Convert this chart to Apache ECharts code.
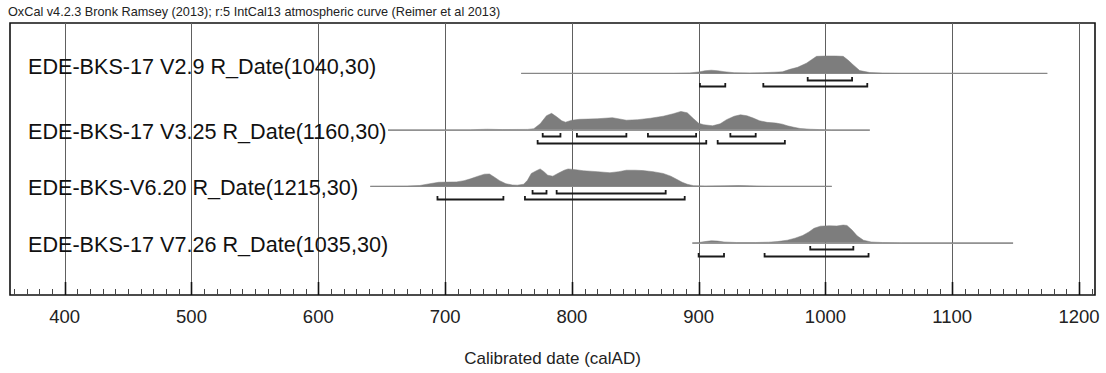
<!DOCTYPE html>
<html>
<head>
<meta charset="utf-8">
<script src="https://cdn.jsdelivr.net/npm/echarts@6/dist/echarts.min.js"></script>
<style>
html,body{margin:0;padding:0;background:#fff;}
#chart{width:1106px;height:373px;}
</style>
</head>
<body>
<div id="chart"></div>
<script>
// ---------- data ----------
const headerText = "OxCal v4.2.3 Bronk Ramsey (2013); r:5 IntCal13 atmospheric curve (Reimer et al 2013)";
const axisTitle = "Calibrated date (calAD)";
const sampleNames = [
  "EDE-BKS-17 V2.9 R_Date(1040,30)",
  "EDE-BKS-17 V3.25 R_Date(1160,30)",
  "EDE-BKS-V6.20 R_Date(1215,30)",
  "EDE-BKS-17 V7.26 R_Date(1035,30)"
];
const axisTickValues = [400, 500, 600, 700, 800, 900, 1000, 1100, 1200];
// calendar span of each calculated distribution (cal AD)
const rowSpans = [[760, 1175], [655, 1035], [641, 1005], [895, 1148]];
// relative probability [calAD, prob]
const prob1 = [[760,0],[880,0],[893,2],[900,7],[905,14],[910,17],[915,14],[920,9],[928,3],[940,2],[950,3],[960,6],[966,8],[972,22],[978,33],[985,56],[989,75],[993,94],[1000,96],[1008,96],[1014,94],[1018,72],[1022,46],[1027,15],[1035,4],[1045,1],[1060,0],[1175,0]];
const prob2 = [[655,0],[720,0],[733,3],[745,1],[765,2],[770,6],[775,33],[780,78],[784,91],[788,72],[792,50],[795,42],[800,53],[806,58],[820,61],[832,67],[843,53],[852,56],[862,64],[872,75],[880,89],[886,102],[891,94],[896,61],[900,36],[904,28],[911,22],[917,33],[922,56],[928,75],[933,83],[938,78],[943,65],[948,50],[954,41],[961,37],[966,31],[970,22],[975,14],[980,7],[988,3],[995,1],[1005,0],[1035,0]];
const prob3 = [[641,0],[670,1],[680,4],[688,14],[695,22],[702,23],[709,24],[715,31],[720,41],[726,56],[731,67],[735,68],[739,50],[743,31],[748,14],[753,7],[757,6],[762,11],[765,33],[768,71],[772,86],[775,96],[778,81],[781,61],[785,56],[790,75],[794,89],[797,96],[803,92],[809,86],[820,81],[830,75],[837,81],[843,89],[850,89],[856,87],[864,81],[872,71],[878,56],[883,37],[887,22],[891,11],[896,3],[905,1],[920,2],[932,4],[940,2],[955,0],[1005,0]];
const prob4 = [[895,0],[900,1],[905,6],[910,11],[915,9],[920,4],[930,1],[945,1],[955,3],[962,6],[970,14],[976,25],[982,40],[987,60],[991,80],[996,92],[1003,94],[1009,93],[1014,98],[1017,96],[1021,70],[1025,38],[1030,14],[1036,4],[1045,1],[1060,0],[1148,0]];
// highest posterior density ranges
const range68 = [
  [[986,1021]],
  [[777,791],[804,843],[860,898],[925,945]],
  [[769,780],[788,874]],
  [[988,1022]]
];
const range95 = [
  [[901,921],[951,1033]],
  [[773,906],[915,968]],
  [[694,746],[763,889]],
  [[900,920],[952,1034]]
];
const probs = [prob1, prob2, prob3, prob4];

// ---------- layout / style constants ----------
const FONT = "'Liberation Sans', Arial, Helvetica, sans-serif";
const H_SCALE = 0.18;           // px per unit of relative probability
const LABEL_DY = [-7, 2, 1, 2]; // label offset vs. row baseline (px)
const X_MIN = 356.86, X_MAX = 1212.6;

const minorTicks = [];
for (let v = 360; v <= 1210; v += 10) if (v % 100 !== 0) minorTicks.push(v);

const bracketData = [];
range68.forEach((rs, i) => rs.forEach(r => bracketData.push([r[0], i, r[1], 0])));
range95.forEach((rs, i) => rs.forEach(r => bracketData.push([r[0], i, r[1], 1])));

const chart = echarts.init(document.getElementById('chart'), null, {renderer: 'svg'});

chart.setOption({
  animation: false,
  backgroundColor: '#fff',
  title: {
    text: headerText, left: 3, top: 0,
    textStyle: {fontFamily: FONT, fontSize: 12.7, fontWeight: 'normal', color: '#222'}
  },
  grid: {left: 10, right: 11, top: 23, bottom: 78, show: true, borderColor: '#111', borderWidth: 1.6, backgroundColor: 'transparent'},
  xAxis: {
    type: 'value', min: X_MIN, max: X_MAX,
    axisLine: {show: false},
    axisTick: {show: false},
    splitLine: {show: false},
    axisLabel: {customValues: axisTickValues, formatter: v => String(v), fontFamily: FONT, fontSize: 18.5, color: '#222', margin: 12},
    name: axisTitle, nameLocation: 'middle', nameGap: 55,
    nameTextStyle: {fontFamily: FONT, fontSize: 17, color: '#222'}
  },
  yAxis: {
    type: 'value', min: -0.89, max: 3.926, inverse: true, show: false,
    splitLine: {show: false}
  },
  series: [
    { // century grid lines
      type: 'custom', silent: true, z: 1,
      data: axisTickValues.map(v => [v, 0]),
      renderItem(params, api) {
        const cs = params.coordSys;
        const x = Math.round(api.coord([api.value(0), 0])[0]) + 0.5;
        return {type: 'group', children: [
          {type: 'line', shape: {x1: x, y1: cs.y, x2: x, y2: cs.y + cs.height}, style: {stroke: '#606060', lineWidth: 1}},
          {type: 'line', shape: {x1: x, y1: cs.y + cs.height - 13, x2: x, y2: cs.y + cs.height}, style: {stroke: '#111', lineWidth: 1.6}}
        ]};
      }
    },
    { // minor ticks
      type: 'custom', silent: true, z: 1,
      data: minorTicks.map(v => [v, 0]),
      renderItem(params, api) {
        const cs = params.coordSys;
        const x = Math.round(api.coord([api.value(0), 0])[0]) + 0.5;
        return {type: 'line', shape: {x1: x, y1: cs.y + cs.height - 6, x2: x, y2: cs.y + cs.height}, style: {stroke: '#444', lineWidth: 1}};
      }
    },
    { // sample labels
      type: 'custom', silent: true, z: 3,
      data: sampleNames.map((n, i) => [X_MIN, i]),
      renderItem(params, api) {
        const cs = params.coordSys;
        const i = params.dataIndex;
        const p = api.coord([api.value(0), api.value(1)]);
        return {type: 'text', style: {
          text: sampleNames[i], x: cs.x + 18, y: p[1] + LABEL_DY[i],
          fontFamily: FONT, fontSize: 21.6, fill: '#111', align: 'left', verticalAlign: 'middle'
        }};
      }
    },
    { // row baselines
      type: 'custom', silent: true, z: 2,
      data: rowSpans.map((s, i) => [s[0], i, s[1]]),
      renderItem(params, api) {
        const a = api.coord([api.value(0), api.value(1)]);
        const b = api.coord([api.value(2), api.value(1)]);
        const y = Math.round(a[1]) + 0.5;
        return {type: 'line', shape: {x1: a[0], y1: y, x2: b[0], y2: y}, style: {stroke: '#9a9a9a', lineWidth: 1}};
      }
    },
    { // probability distributions
      type: 'custom', silent: true, z: 4,
      data: probs.map((p, i) => [p[0][0], i]),
      renderItem(params, api) {
        const i = params.dataIndex;
        const pts = probs[i].map(d => {
          const c = api.coord([d[0], i]);
          return [c[0], c[1] - d[1] * H_SCALE];
        });
        return {type: 'polygon', shape: {points: pts}, style: {fill: '#7d7d7d', stroke: '#7d7d7d', lineWidth: 0.5}};
      }
    },
    { // HPD range brackets
      type: 'custom', silent: true, z: 5,
      data: bracketData,
      renderItem(params, api) {
        const a = api.coord([api.value(0), api.value(1)]);
        const b = api.coord([api.value(2), api.value(1)]);
        const off = api.value(3) === 0 ? 6.5 : 13;
        const y = Math.round(a[1] + off) + 0.5;
        return {type: 'polyline', shape: {points: [[a[0], y - 3.5], [a[0], y], [b[0], y], [b[0], y - 3.5]]},
          style: {stroke: '#1a1a1a', lineWidth: 1.8, fill: null}};
      }
    }
  ]
});
</script>
</body>
</html>
